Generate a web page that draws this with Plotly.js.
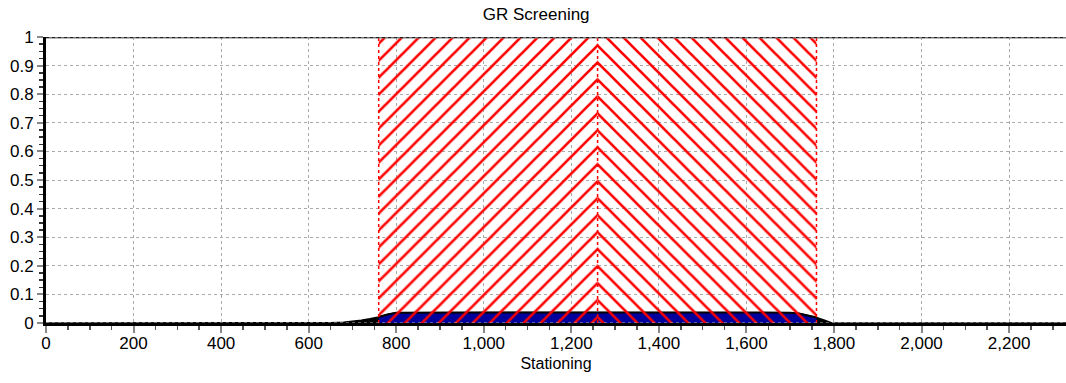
<!DOCTYPE html>
<html>
<head>
<meta charset="utf-8">
<script src="https://cdn.plot.ly/plotly-3.0.1.min.js"></script>
<style>html,body{margin:0;padding:0;background:#fff;}#chart{width:1066px;height:383px;}</style>
</head>
<body>
<div id="chart"></div>
<script>
// GR curve (stationing vs value)
const stationing = [0, 600, 650, 680, 700, 720, 740, 760, 780, 800, 1000, 1200, 1400, 1600, 1700, 1720, 1740, 1760, 1780, 1795, 2330];
const grValue    = [0, 0, 0.001, 0.003, 0.006, 0.010, 0.015, 0.021, 0.030, 0.036, 0.037, 0.037, 0.037, 0.037, 0.036, 0.033, 0.027, 0.019, 0.009, 0, 0];
// screening zones
const zoneStart = 760;
const zoneMid = 1260;
const zoneEnd = 1760;
const zoneTop = 1;

const inZoneX = [], inZoneY = [];
stationing.forEach((s, i) => { if (s >= zoneStart && s <= zoneEnd) { inZoneX.push(s); inZoneY.push(grValue[i]); } });

const traces = [
  {x: stationing, y: grValue, type: 'scatter', mode: 'lines', fill: 'tozeroy',
   fillcolor: '#000000', line: {color: '#000000', width: 1.5}, hoverinfo: 'skip', showlegend: false},
  {x: inZoneX, y: inZoneY, type: 'scatter', mode: 'lines', fill: 'tozeroy',
   fillcolor: '#00009c', line: {color: '#000000', width: 2}, hoverinfo: 'skip', showlegend: false},
  {x: [zoneStart, zoneMid, zoneMid, zoneStart, zoneStart], y: [0, 0, zoneTop, zoneTop, 0],
   type: 'scatter', mode: 'lines', fill: 'toself', fillcolor: 'rgba(0,0,0,0)',
   fillpattern: {shape: '/', fgcolor: '#ff0000', bgcolor: 'rgba(0,0,0,0)', size: 12, solidity: 0.22},
   line: {width: 0}, hoverinfo: 'skip', showlegend: false},
  {x: [zoneMid, zoneEnd, zoneEnd, zoneMid, zoneMid], y: [0, 0, zoneTop, zoneTop, 0],
   type: 'scatter', mode: 'lines', fill: 'toself', fillcolor: 'rgba(0,0,0,0)',
   fillpattern: {shape: '\\', fgcolor: '#ff0000', bgcolor: 'rgba(0,0,0,0)', size: 12, solidity: 0.22},
   line: {width: 0}, hoverinfo: 'skip', showlegend: false},
  {x: [zoneStart, zoneStart, null, zoneMid, zoneMid, null, zoneEnd, zoneEnd],
   y: [0, zoneTop, null, 0, zoneTop, null, 0, zoneTop],
   type: 'scatter', mode: 'lines', line: {color: '#ff0000', width: 1.5, dash: 'dot'},
   hoverinfo: 'skip', showlegend: false}
];

const fontFam = '"Liberation Sans", Arial, Helvetica, sans-serif';
const layout = {
  width: 1066, height: 383,
  margin: {l: 46, r: 0, t: 37, b: 60},
  paper_bgcolor: '#ffffff', plot_bgcolor: '#ffffff',
  font: {family: fontFam, size: 17, color: '#000'},
  title: {text: 'GR Screening', font: {family: fontFam, size: 17, color: '#000'},
          x: 0.503, xanchor: 'center', xref: 'container', y: 0.963, yanchor: 'middle', yref: 'container'},
  xaxis: {
    range: [0, 2330], dtick: 200, tick0: 0, tickformat: ',d',
    showgrid: true, gridcolor: '#aaaaaa', griddash: 'dot', gridwidth: 1,
    showline: true, linecolor: '#000', linewidth: 3, zeroline: false,
    ticks: 'outside', ticklen: 7, tickwidth: 2, tickcolor: '#888',
    minor: {dtick: 50, ticks: 'outside', ticklen: 4, tickwidth: 1.5, tickcolor: '#555', showgrid: false},
    ticklabelstandoff: -4,
    tickfont: {family: fontFam, size: 17, color: '#000'},
    title: {text: 'Stationing', font: {family: fontFam, size: 16, color: '#000'}, standoff: 6},
    fixedrange: true
  },
  yaxis: {
    range: [0, 1], dtick: 0.1, tick0: 0,
    showgrid: true, gridcolor: '#aaaaaa', griddash: 'dot', gridwidth: 1,
    showline: true, linecolor: '#000', linewidth: 3, zeroline: false,
    ticks: 'outside', ticklen: 6, tickwidth: 2, tickcolor: '#888',
    minor: {dtick: 0.025, ticks: 'outside', ticklen: 4, tickwidth: 1.5, tickcolor: '#333', showgrid: false},
    tickfont: {family: fontFam, size: 17, color: '#000'},
    fixedrange: true
  },
  shapes: [
    {type: 'line', xref: 'paper', yref: 'y', x0: 0, x1: 1, y0: 1, y1: 1, line: {color: '#777', width: 3}, layer: 'above'},
    {type: 'line', xref: 'paper', yref: 'y', x0: 0, x1: 1, y0: 1, y1: 1, line: {color: '#000', width: 1.5, dash: 'dot'}, layer: 'above'},
    {type: 'line', xref: 'paper', yref: 'y', x0: 0, x1: 1, y0: 0, y1: 0, line: {color: '#bbb', width: 1, dash: 'dot'}, layer: 'above'}
  ],
  showlegend: false
};

Plotly.newPlot('chart', traces, layout, {displayModeBar: false, staticPlot: true});
</script>
</body>
</html>
